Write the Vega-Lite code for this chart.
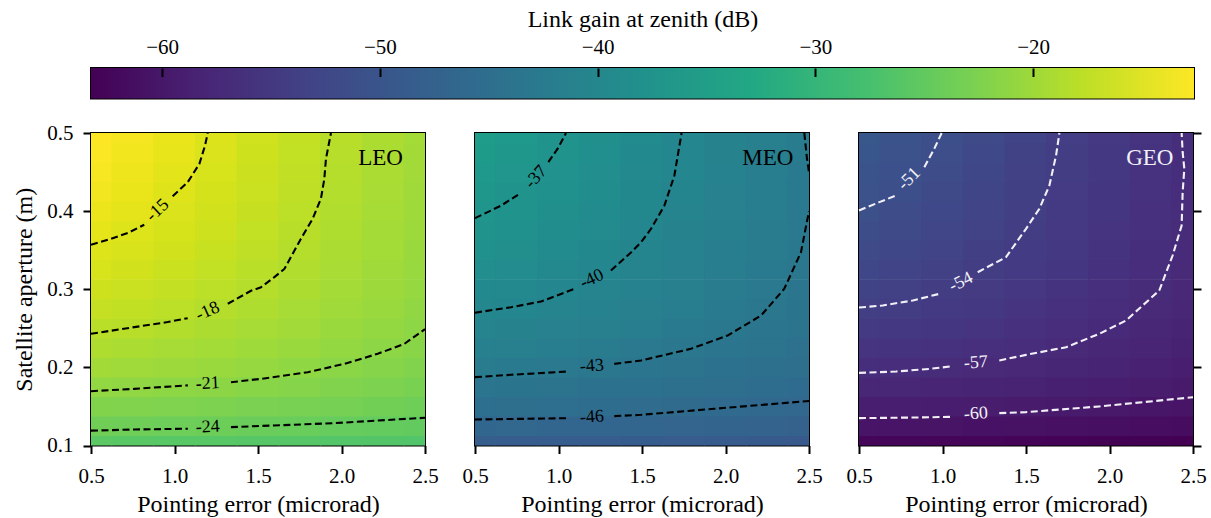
{
"$schema": "https://vega.github.io/schema/vega-lite/v6.json",
"background": "white",
"padding": {"left": 11, "top": 6, "right": 0, "bottom": 0},
"config": {
"font": "Liberation Serif",
"view": {"stroke": "black", "strokeWidth": 2},
"axis": {"labelColor": "black", "titleColor": "black", "tickColor": "black", "tickWidth": 2, "labelFontSize": 21, "titleFontSize": 24, "titleFontWeight": "normal", "labelFlush": false, "labelOverlap": false, "grid": false, "domain": false, "labelFont": "Liberation Serif", "titleFont": "Liberation Serif"}
},
"datasets": {
"grid": [
{"orbit":"LEO","ap":0.1,"err":0.5,"gain":-25.5},{"orbit":"LEO","ap":0.1,"err":0.75,"gain":-25.6},{"orbit":"LEO","ap":0.1,"err":1,"gain":-25.7},{"orbit":"LEO","ap":0.1,"err":1.25,"gain":-25.7},{"orbit":"LEO","ap":0.1,"err":1.5,"gain":-25.8},{"orbit":"LEO","ap":0.1,"err":1.75,"gain":-25.9},{"orbit":"LEO","ap":0.1,"err":2,"gain":-26.1},{"orbit":"LEO","ap":0.1,"err":2.25,"gain":-26.2},{"orbit":"LEO","ap":0.1,"err":2.5,"gain":-26.3},
{"orbit":"LEO","ap":0.125,"err":0.5,"gain":-23.6},{"orbit":"LEO","ap":0.125,"err":0.75,"gain":-23.7},{"orbit":"LEO","ap":0.125,"err":1,"gain":-23.8},{"orbit":"LEO","ap":0.125,"err":1.25,"gain":-23.9},{"orbit":"LEO","ap":0.125,"err":1.5,"gain":-24.1},{"orbit":"LEO","ap":0.125,"err":1.75,"gain":-24.2},{"orbit":"LEO","ap":0.125,"err":2,"gain":-24.4},{"orbit":"LEO","ap":0.125,"err":2.25,"gain":-24.6},{"orbit":"LEO","ap":0.125,"err":2.5,"gain":-24.8},
{"orbit":"LEO","ap":0.15,"err":0.5,"gain":-22.1},{"orbit":"LEO","ap":0.15,"err":0.75,"gain":-22.2},{"orbit":"LEO","ap":0.15,"err":1,"gain":-22.3},{"orbit":"LEO","ap":0.15,"err":1.25,"gain":-22.5},{"orbit":"LEO","ap":0.15,"err":1.5,"gain":-22.7},{"orbit":"LEO","ap":0.15,"err":1.75,"gain":-22.9},{"orbit":"LEO","ap":0.15,"err":2,"gain":-23.1},{"orbit":"LEO","ap":0.15,"err":2.25,"gain":-23.4},{"orbit":"LEO","ap":0.15,"err":2.5,"gain":-23.7},
{"orbit":"LEO","ap":0.175,"err":0.5,"gain":-20.8},{"orbit":"LEO","ap":0.175,"err":0.75,"gain":-20.9},{"orbit":"LEO","ap":0.175,"err":1,"gain":-21.1},{"orbit":"LEO","ap":0.175,"err":1.25,"gain":-21.3},{"orbit":"LEO","ap":0.175,"err":1.5,"gain":-21.6},{"orbit":"LEO","ap":0.175,"err":1.75,"gain":-21.8},{"orbit":"LEO","ap":0.175,"err":2,"gain":-22.2},{"orbit":"LEO","ap":0.175,"err":2.25,"gain":-22.5},{"orbit":"LEO","ap":0.175,"err":2.5,"gain":-22.8},
{"orbit":"LEO","ap":0.2,"err":0.5,"gain":-19.6},{"orbit":"LEO","ap":0.2,"err":0.75,"gain":-19.8},{"orbit":"LEO","ap":0.2,"err":1,"gain":-20.0},{"orbit":"LEO","ap":0.2,"err":1.25,"gain":-20.3},{"orbit":"LEO","ap":0.2,"err":1.5,"gain":-20.6},{"orbit":"LEO","ap":0.2,"err":1.75,"gain":-21.0},{"orbit":"LEO","ap":0.2,"err":2,"gain":-21.4},{"orbit":"LEO","ap":0.2,"err":2.25,"gain":-21.8},{"orbit":"LEO","ap":0.2,"err":2.5,"gain":-22.2},
{"orbit":"LEO","ap":0.225,"err":0.5,"gain":-18.6},{"orbit":"LEO","ap":0.225,"err":0.75,"gain":-18.9},{"orbit":"LEO","ap":0.225,"err":1,"gain":-19.2},{"orbit":"LEO","ap":0.225,"err":1.25,"gain":-19.5},{"orbit":"LEO","ap":0.225,"err":1.5,"gain":-19.9},{"orbit":"LEO","ap":0.225,"err":1.75,"gain":-20.3},{"orbit":"LEO","ap":0.225,"err":2,"gain":-20.7},{"orbit":"LEO","ap":0.225,"err":2.25,"gain":-21.2},{"orbit":"LEO","ap":0.225,"err":2.5,"gain":-21.6},
{"orbit":"LEO","ap":0.25,"err":0.5,"gain":-17.8},{"orbit":"LEO","ap":0.25,"err":0.75,"gain":-18.0},{"orbit":"LEO","ap":0.25,"err":1,"gain":-18.4},{"orbit":"LEO","ap":0.25,"err":1.25,"gain":-18.8},{"orbit":"LEO","ap":0.25,"err":1.5,"gain":-19.2},{"orbit":"LEO","ap":0.25,"err":1.75,"gain":-19.7},{"orbit":"LEO","ap":0.25,"err":2,"gain":-20.2},{"orbit":"LEO","ap":0.25,"err":2.25,"gain":-20.7},{"orbit":"LEO","ap":0.25,"err":2.5,"gain":-21.2},
{"orbit":"LEO","ap":0.275,"err":0.5,"gain":-17.0},{"orbit":"LEO","ap":0.275,"err":0.75,"gain":-17.3},{"orbit":"LEO","ap":0.275,"err":1,"gain":-17.7},{"orbit":"LEO","ap":0.275,"err":1.25,"gain":-18.2},{"orbit":"LEO","ap":0.275,"err":1.5,"gain":-18.7},{"orbit":"LEO","ap":0.275,"err":1.75,"gain":-19.2},{"orbit":"LEO","ap":0.275,"err":2,"gain":-19.8},{"orbit":"LEO","ap":0.275,"err":2.25,"gain":-20.3},{"orbit":"LEO","ap":0.275,"err":2.5,"gain":-20.9},
{"orbit":"LEO","ap":0.3,"err":0.5,"gain":-16.3},{"orbit":"LEO","ap":0.3,"err":0.75,"gain":-16.7},{"orbit":"LEO","ap":0.3,"err":1,"gain":-17.1},{"orbit":"LEO","ap":0.3,"err":1.25,"gain":-17.7},{"orbit":"LEO","ap":0.3,"err":1.5,"gain":-18.2},{"orbit":"LEO","ap":0.3,"err":1.75,"gain":-18.8},{"orbit":"LEO","ap":0.3,"err":2,"gain":-19.4},{"orbit":"LEO","ap":0.3,"err":2.25,"gain":-20.0},{"orbit":"LEO","ap":0.3,"err":2.5,"gain":-20.6},
{"orbit":"LEO","ap":0.325,"err":0.5,"gain":-15.6},{"orbit":"LEO","ap":0.325,"err":0.75,"gain":-16.1},{"orbit":"LEO","ap":0.325,"err":1,"gain":-16.6},{"orbit":"LEO","ap":0.325,"err":1.25,"gain":-17.2},{"orbit":"LEO","ap":0.325,"err":1.5,"gain":-17.8},{"orbit":"LEO","ap":0.325,"err":1.75,"gain":-18.5},{"orbit":"LEO","ap":0.325,"err":2,"gain":-19.1},{"orbit":"LEO","ap":0.325,"err":2.25,"gain":-19.8},{"orbit":"LEO","ap":0.325,"err":2.5,"gain":-20.4},
{"orbit":"LEO","ap":0.35,"err":0.5,"gain":-15.1},{"orbit":"LEO","ap":0.35,"err":0.75,"gain":-15.5},{"orbit":"LEO","ap":0.35,"err":1,"gain":-16.1},{"orbit":"LEO","ap":0.35,"err":1.25,"gain":-16.8},{"orbit":"LEO","ap":0.35,"err":1.5,"gain":-17.5},{"orbit":"LEO","ap":0.35,"err":1.75,"gain":-18.2},{"orbit":"LEO","ap":0.35,"err":2,"gain":-18.9},{"orbit":"LEO","ap":0.35,"err":2.25,"gain":-19.5},{"orbit":"LEO","ap":0.35,"err":2.5,"gain":-20.2},
{"orbit":"LEO","ap":0.375,"err":0.5,"gain":-14.5},{"orbit":"LEO","ap":0.375,"err":0.75,"gain":-15.1},{"orbit":"LEO","ap":0.375,"err":1,"gain":-15.7},{"orbit":"LEO","ap":0.375,"err":1.25,"gain":-16.4},{"orbit":"LEO","ap":0.375,"err":1.5,"gain":-17.2},{"orbit":"LEO","ap":0.375,"err":1.75,"gain":-17.9},{"orbit":"LEO","ap":0.375,"err":2,"gain":-18.7},{"orbit":"LEO","ap":0.375,"err":2.25,"gain":-19.4},{"orbit":"LEO","ap":0.375,"err":2.5,"gain":-20.0},
{"orbit":"LEO","ap":0.4,"err":0.5,"gain":-14.0},{"orbit":"LEO","ap":0.4,"err":0.75,"gain":-14.6},{"orbit":"LEO","ap":0.4,"err":1,"gain":-15.4},{"orbit":"LEO","ap":0.4,"err":1.25,"gain":-16.1},{"orbit":"LEO","ap":0.4,"err":1.5,"gain":-16.9},{"orbit":"LEO","ap":0.4,"err":1.75,"gain":-17.7},{"orbit":"LEO","ap":0.4,"err":2,"gain":-18.5},{"orbit":"LEO","ap":0.4,"err":2.25,"gain":-19.2},{"orbit":"LEO","ap":0.4,"err":2.5,"gain":-19.9},
{"orbit":"LEO","ap":0.425,"err":0.5,"gain":-13.6},{"orbit":"LEO","ap":0.425,"err":0.75,"gain":-14.2},{"orbit":"LEO","ap":0.425,"err":1,"gain":-15.0},{"orbit":"LEO","ap":0.425,"err":1.25,"gain":-15.9},{"orbit":"LEO","ap":0.425,"err":1.5,"gain":-16.7},{"orbit":"LEO","ap":0.425,"err":1.75,"gain":-17.5},{"orbit":"LEO","ap":0.425,"err":2,"gain":-18.3},{"orbit":"LEO","ap":0.425,"err":2.25,"gain":-19.1},{"orbit":"LEO","ap":0.425,"err":2.5,"gain":-19.8},
{"orbit":"LEO","ap":0.45,"err":0.5,"gain":-13.1},{"orbit":"LEO","ap":0.45,"err":0.75,"gain":-13.9},{"orbit":"LEO","ap":0.45,"err":1,"gain":-14.7},{"orbit":"LEO","ap":0.45,"err":1.25,"gain":-15.6},{"orbit":"LEO","ap":0.45,"err":1.5,"gain":-16.5},{"orbit":"LEO","ap":0.45,"err":1.75,"gain":-17.4},{"orbit":"LEO","ap":0.45,"err":2,"gain":-18.2},{"orbit":"LEO","ap":0.45,"err":2.25,"gain":-19.0},{"orbit":"LEO","ap":0.45,"err":2.5,"gain":-19.7},
{"orbit":"LEO","ap":0.475,"err":0.5,"gain":-12.7},{"orbit":"LEO","ap":0.475,"err":0.75,"gain":-13.5},{"orbit":"LEO","ap":0.475,"err":1,"gain":-14.4},{"orbit":"LEO","ap":0.475,"err":1.25,"gain":-15.4},{"orbit":"LEO","ap":0.475,"err":1.5,"gain":-16.3},{"orbit":"LEO","ap":0.475,"err":1.75,"gain":-17.2},{"orbit":"LEO","ap":0.475,"err":2,"gain":-18.1},{"orbit":"LEO","ap":0.475,"err":2.25,"gain":-18.9},{"orbit":"LEO","ap":0.475,"err":2.5,"gain":-19.6},
{"orbit":"LEO","ap":0.5,"err":0.5,"gain":-12.4},{"orbit":"LEO","ap":0.5,"err":0.75,"gain":-13.2},{"orbit":"LEO","ap":0.5,"err":1,"gain":-14.2},{"orbit":"LEO","ap":0.5,"err":1.25,"gain":-15.2},{"orbit":"LEO","ap":0.5,"err":1.5,"gain":-16.2},{"orbit":"LEO","ap":0.5,"err":1.75,"gain":-17.1},{"orbit":"LEO","ap":0.5,"err":2,"gain":-18.0},{"orbit":"LEO","ap":0.5,"err":2.25,"gain":-18.8},{"orbit":"LEO","ap":0.5,"err":2.5,"gain":-19.5},
{"orbit":"MEO","ap":0.1,"err":0.5,"gain":-48.4},{"orbit":"MEO","ap":0.1,"err":0.75,"gain":-48.5},{"orbit":"MEO","ap":0.1,"err":1,"gain":-48.5},{"orbit":"MEO","ap":0.1,"err":1.25,"gain":-48.6},{"orbit":"MEO","ap":0.1,"err":1.5,"gain":-48.7},{"orbit":"MEO","ap":0.1,"err":1.75,"gain":-48.8},{"orbit":"MEO","ap":0.1,"err":2,"gain":-48.9},{"orbit":"MEO","ap":0.1,"err":2.25,"gain":-49.1},{"orbit":"MEO","ap":0.1,"err":2.5,"gain":-49.2},
{"orbit":"MEO","ap":0.125,"err":0.5,"gain":-46.5},{"orbit":"MEO","ap":0.125,"err":0.75,"gain":-46.6},{"orbit":"MEO","ap":0.125,"err":1,"gain":-46.7},{"orbit":"MEO","ap":0.125,"err":1.25,"gain":-46.8},{"orbit":"MEO","ap":0.125,"err":1.5,"gain":-46.9},{"orbit":"MEO","ap":0.125,"err":1.75,"gain":-47.1},{"orbit":"MEO","ap":0.125,"err":2,"gain":-47.3},{"orbit":"MEO","ap":0.125,"err":2.25,"gain":-47.5},{"orbit":"MEO","ap":0.125,"err":2.5,"gain":-47.7},
{"orbit":"MEO","ap":0.15,"err":0.5,"gain":-44.9},{"orbit":"MEO","ap":0.15,"err":0.75,"gain":-45.0},{"orbit":"MEO","ap":0.15,"err":1,"gain":-45.2},{"orbit":"MEO","ap":0.15,"err":1.25,"gain":-45.4},{"orbit":"MEO","ap":0.15,"err":1.5,"gain":-45.6},{"orbit":"MEO","ap":0.15,"err":1.75,"gain":-45.8},{"orbit":"MEO","ap":0.15,"err":2,"gain":-46.0},{"orbit":"MEO","ap":0.15,"err":2.25,"gain":-46.3},{"orbit":"MEO","ap":0.15,"err":2.5,"gain":-46.6},
{"orbit":"MEO","ap":0.175,"err":0.5,"gain":-43.6},{"orbit":"MEO","ap":0.175,"err":0.75,"gain":-43.8},{"orbit":"MEO","ap":0.175,"err":1,"gain":-44.0},{"orbit":"MEO","ap":0.175,"err":1.25,"gain":-44.2},{"orbit":"MEO","ap":0.175,"err":1.5,"gain":-44.4},{"orbit":"MEO","ap":0.175,"err":1.75,"gain":-44.7},{"orbit":"MEO","ap":0.175,"err":2,"gain":-45.0},{"orbit":"MEO","ap":0.175,"err":2.25,"gain":-45.4},{"orbit":"MEO","ap":0.175,"err":2.5,"gain":-45.7},
{"orbit":"MEO","ap":0.2,"err":0.5,"gain":-42.5},{"orbit":"MEO","ap":0.2,"err":0.75,"gain":-42.7},{"orbit":"MEO","ap":0.2,"err":1,"gain":-42.9},{"orbit":"MEO","ap":0.2,"err":1.25,"gain":-43.2},{"orbit":"MEO","ap":0.2,"err":1.5,"gain":-43.5},{"orbit":"MEO","ap":0.2,"err":1.75,"gain":-43.9},{"orbit":"MEO","ap":0.2,"err":2,"gain":-44.3},{"orbit":"MEO","ap":0.2,"err":2.25,"gain":-44.6},{"orbit":"MEO","ap":0.2,"err":2.5,"gain":-45.0},
{"orbit":"MEO","ap":0.225,"err":0.5,"gain":-41.5},{"orbit":"MEO","ap":0.225,"err":0.75,"gain":-41.7},{"orbit":"MEO","ap":0.225,"err":1,"gain":-42.0},{"orbit":"MEO","ap":0.225,"err":1.25,"gain":-42.4},{"orbit":"MEO","ap":0.225,"err":1.5,"gain":-42.8},{"orbit":"MEO","ap":0.225,"err":1.75,"gain":-43.2},{"orbit":"MEO","ap":0.225,"err":2,"gain":-43.6},{"orbit":"MEO","ap":0.225,"err":2.25,"gain":-44.1},{"orbit":"MEO","ap":0.225,"err":2.5,"gain":-44.5},
{"orbit":"MEO","ap":0.25,"err":0.5,"gain":-40.7},{"orbit":"MEO","ap":0.25,"err":0.75,"gain":-40.9},{"orbit":"MEO","ap":0.25,"err":1,"gain":-41.3},{"orbit":"MEO","ap":0.25,"err":1.25,"gain":-41.7},{"orbit":"MEO","ap":0.25,"err":1.5,"gain":-42.1},{"orbit":"MEO","ap":0.25,"err":1.75,"gain":-42.6},{"orbit":"MEO","ap":0.25,"err":2,"gain":-43.1},{"orbit":"MEO","ap":0.25,"err":2.25,"gain":-43.6},{"orbit":"MEO","ap":0.25,"err":2.5,"gain":-44.1},
{"orbit":"MEO","ap":0.275,"err":0.5,"gain":-39.9},{"orbit":"MEO","ap":0.275,"err":0.75,"gain":-40.2},{"orbit":"MEO","ap":0.275,"err":1,"gain":-40.6},{"orbit":"MEO","ap":0.275,"err":1.25,"gain":-41.1},{"orbit":"MEO","ap":0.275,"err":1.5,"gain":-41.6},{"orbit":"MEO","ap":0.275,"err":1.75,"gain":-42.1},{"orbit":"MEO","ap":0.275,"err":2,"gain":-42.7},{"orbit":"MEO","ap":0.275,"err":2.25,"gain":-43.2},{"orbit":"MEO","ap":0.275,"err":2.5,"gain":-43.8},
{"orbit":"MEO","ap":0.3,"err":0.5,"gain":-39.2},{"orbit":"MEO","ap":0.3,"err":0.75,"gain":-39.5},{"orbit":"MEO","ap":0.3,"err":1,"gain":-40.0},{"orbit":"MEO","ap":0.3,"err":1.25,"gain":-40.5},{"orbit":"MEO","ap":0.3,"err":1.5,"gain":-41.1},{"orbit":"MEO","ap":0.3,"err":1.75,"gain":-41.7},{"orbit":"MEO","ap":0.3,"err":2,"gain":-42.3},{"orbit":"MEO","ap":0.3,"err":2.25,"gain":-42.9},{"orbit":"MEO","ap":0.3,"err":2.5,"gain":-43.5},
{"orbit":"MEO","ap":0.325,"err":0.5,"gain":-38.5},{"orbit":"MEO","ap":0.325,"err":0.75,"gain":-38.9},{"orbit":"MEO","ap":0.325,"err":1,"gain":-39.5},{"orbit":"MEO","ap":0.325,"err":1.25,"gain":-40.1},{"orbit":"MEO","ap":0.325,"err":1.5,"gain":-40.7},{"orbit":"MEO","ap":0.325,"err":1.75,"gain":-41.4},{"orbit":"MEO","ap":0.325,"err":2,"gain":-42.0},{"orbit":"MEO","ap":0.325,"err":2.25,"gain":-42.6},{"orbit":"MEO","ap":0.325,"err":2.5,"gain":-43.3},
{"orbit":"MEO","ap":0.35,"err":0.5,"gain":-37.9},{"orbit":"MEO","ap":0.35,"err":0.75,"gain":-38.4},{"orbit":"MEO","ap":0.35,"err":1,"gain":-39.0},{"orbit":"MEO","ap":0.35,"err":1.25,"gain":-39.7},{"orbit":"MEO","ap":0.35,"err":1.5,"gain":-40.4},{"orbit":"MEO","ap":0.35,"err":1.75,"gain":-41.1},{"orbit":"MEO","ap":0.35,"err":2,"gain":-41.8},{"orbit":"MEO","ap":0.35,"err":2.25,"gain":-42.4},{"orbit":"MEO","ap":0.35,"err":2.5,"gain":-43.1},
{"orbit":"MEO","ap":0.375,"err":0.5,"gain":-37.4},{"orbit":"MEO","ap":0.375,"err":0.75,"gain":-37.9},{"orbit":"MEO","ap":0.375,"err":1,"gain":-38.6},{"orbit":"MEO","ap":0.375,"err":1.25,"gain":-39.3},{"orbit":"MEO","ap":0.375,"err":1.5,"gain":-40.1},{"orbit":"MEO","ap":0.375,"err":1.75,"gain":-40.8},{"orbit":"MEO","ap":0.375,"err":2,"gain":-41.5},{"orbit":"MEO","ap":0.375,"err":2.25,"gain":-42.2},{"orbit":"MEO","ap":0.375,"err":2.5,"gain":-42.9},
{"orbit":"MEO","ap":0.4,"err":0.5,"gain":-36.9},{"orbit":"MEO","ap":0.4,"err":0.75,"gain":-37.5},{"orbit":"MEO","ap":0.4,"err":1,"gain":-38.2},{"orbit":"MEO","ap":0.4,"err":1.25,"gain":-39.0},{"orbit":"MEO","ap":0.4,"err":1.5,"gain":-39.8},{"orbit":"MEO","ap":0.4,"err":1.75,"gain":-40.6},{"orbit":"MEO","ap":0.4,"err":2,"gain":-41.4},{"orbit":"MEO","ap":0.4,"err":2.25,"gain":-42.1},{"orbit":"MEO","ap":0.4,"err":2.5,"gain":-42.8},
{"orbit":"MEO","ap":0.425,"err":0.5,"gain":-36.4},{"orbit":"MEO","ap":0.425,"err":0.75,"gain":-37.1},{"orbit":"MEO","ap":0.425,"err":1,"gain":-37.9},{"orbit":"MEO","ap":0.425,"err":1.25,"gain":-38.7},{"orbit":"MEO","ap":0.425,"err":1.5,"gain":-39.6},{"orbit":"MEO","ap":0.425,"err":1.75,"gain":-40.4},{"orbit":"MEO","ap":0.425,"err":2,"gain":-41.2},{"orbit":"MEO","ap":0.425,"err":2.25,"gain":-42.0},{"orbit":"MEO","ap":0.425,"err":2.5,"gain":-42.7},
{"orbit":"MEO","ap":0.45,"err":0.5,"gain":-36.0},{"orbit":"MEO","ap":0.45,"err":0.75,"gain":-36.7},{"orbit":"MEO","ap":0.45,"err":1,"gain":-37.6},{"orbit":"MEO","ap":0.45,"err":1.25,"gain":-38.5},{"orbit":"MEO","ap":0.45,"err":1.5,"gain":-39.4},{"orbit":"MEO","ap":0.45,"err":1.75,"gain":-40.2},{"orbit":"MEO","ap":0.45,"err":2,"gain":-41.1},{"orbit":"MEO","ap":0.45,"err":2.25,"gain":-41.8},{"orbit":"MEO","ap":0.45,"err":2.5,"gain":-42.6},
{"orbit":"MEO","ap":0.475,"err":0.5,"gain":-35.6},{"orbit":"MEO","ap":0.475,"err":0.75,"gain":-36.4},{"orbit":"MEO","ap":0.475,"err":1,"gain":-37.3},{"orbit":"MEO","ap":0.475,"err":1.25,"gain":-38.3},{"orbit":"MEO","ap":0.475,"err":1.5,"gain":-39.2},{"orbit":"MEO","ap":0.475,"err":1.75,"gain":-40.1},{"orbit":"MEO","ap":0.475,"err":2,"gain":-40.9},{"orbit":"MEO","ap":0.475,"err":2.25,"gain":-41.7},{"orbit":"MEO","ap":0.475,"err":2.5,"gain":-42.5},
{"orbit":"MEO","ap":0.5,"err":0.5,"gain":-35.2},{"orbit":"MEO","ap":0.5,"err":0.75,"gain":-36.1},{"orbit":"MEO","ap":0.5,"err":1,"gain":-37.1},{"orbit":"MEO","ap":0.5,"err":1.25,"gain":-38.1},{"orbit":"MEO","ap":0.5,"err":1.5,"gain":-39.0},{"orbit":"MEO","ap":0.5,"err":1.75,"gain":-40.0},{"orbit":"MEO","ap":0.5,"err":2,"gain":-40.8},{"orbit":"MEO","ap":0.5,"err":2.25,"gain":-41.7},{"orbit":"MEO","ap":0.5,"err":2.5,"gain":-42.4},
{"orbit":"GEO","ap":0.1,"err":0.5,"gain":-62.6},{"orbit":"GEO","ap":0.1,"err":0.75,"gain":-62.6},{"orbit":"GEO","ap":0.1,"err":1,"gain":-62.7},{"orbit":"GEO","ap":0.1,"err":1.25,"gain":-62.8},{"orbit":"GEO","ap":0.1,"err":1.5,"gain":-62.9},{"orbit":"GEO","ap":0.1,"err":1.75,"gain":-63.0},{"orbit":"GEO","ap":0.1,"err":2,"gain":-63.1},{"orbit":"GEO","ap":0.1,"err":2.25,"gain":-63.2},{"orbit":"GEO","ap":0.1,"err":2.5,"gain":-63.4},
{"orbit":"GEO","ap":0.125,"err":0.5,"gain":-60.7},{"orbit":"GEO","ap":0.125,"err":0.75,"gain":-60.7},{"orbit":"GEO","ap":0.125,"err":1,"gain":-60.8},{"orbit":"GEO","ap":0.125,"err":1.25,"gain":-61.0},{"orbit":"GEO","ap":0.125,"err":1.5,"gain":-61.1},{"orbit":"GEO","ap":0.125,"err":1.75,"gain":-61.3},{"orbit":"GEO","ap":0.125,"err":2,"gain":-61.5},{"orbit":"GEO","ap":0.125,"err":2.25,"gain":-61.7},{"orbit":"GEO","ap":0.125,"err":2.5,"gain":-61.9},
{"orbit":"GEO","ap":0.15,"err":0.5,"gain":-59.1},{"orbit":"GEO","ap":0.15,"err":0.75,"gain":-59.2},{"orbit":"GEO","ap":0.15,"err":1,"gain":-59.4},{"orbit":"GEO","ap":0.15,"err":1.25,"gain":-59.5},{"orbit":"GEO","ap":0.15,"err":1.5,"gain":-59.7},{"orbit":"GEO","ap":0.15,"err":1.75,"gain":-59.9},{"orbit":"GEO","ap":0.15,"err":2,"gain":-60.2},{"orbit":"GEO","ap":0.15,"err":2.25,"gain":-60.5},{"orbit":"GEO","ap":0.15,"err":2.5,"gain":-60.7},
{"orbit":"GEO","ap":0.175,"err":0.5,"gain":-57.8},{"orbit":"GEO","ap":0.175,"err":0.75,"gain":-57.9},{"orbit":"GEO","ap":0.175,"err":1,"gain":-58.1},{"orbit":"GEO","ap":0.175,"err":1.25,"gain":-58.3},{"orbit":"GEO","ap":0.175,"err":1.5,"gain":-58.6},{"orbit":"GEO","ap":0.175,"err":1.75,"gain":-58.9},{"orbit":"GEO","ap":0.175,"err":2,"gain":-59.2},{"orbit":"GEO","ap":0.175,"err":2.25,"gain":-59.5},{"orbit":"GEO","ap":0.175,"err":2.5,"gain":-59.9},
{"orbit":"GEO","ap":0.2,"err":0.5,"gain":-56.7},{"orbit":"GEO","ap":0.2,"err":0.75,"gain":-56.9},{"orbit":"GEO","ap":0.2,"err":1,"gain":-57.1},{"orbit":"GEO","ap":0.2,"err":1.25,"gain":-57.4},{"orbit":"GEO","ap":0.2,"err":1.5,"gain":-57.7},{"orbit":"GEO","ap":0.2,"err":1.75,"gain":-58.0},{"orbit":"GEO","ap":0.2,"err":2,"gain":-58.4},{"orbit":"GEO","ap":0.2,"err":2.25,"gain":-58.8},{"orbit":"GEO","ap":0.2,"err":2.5,"gain":-59.2},
{"orbit":"GEO","ap":0.225,"err":0.5,"gain":-55.7},{"orbit":"GEO","ap":0.225,"err":0.75,"gain":-55.9},{"orbit":"GEO","ap":0.225,"err":1,"gain":-56.2},{"orbit":"GEO","ap":0.225,"err":1.25,"gain":-56.5},{"orbit":"GEO","ap":0.225,"err":1.5,"gain":-56.9},{"orbit":"GEO","ap":0.225,"err":1.75,"gain":-57.4},{"orbit":"GEO","ap":0.225,"err":2,"gain":-57.8},{"orbit":"GEO","ap":0.225,"err":2.25,"gain":-58.2},{"orbit":"GEO","ap":0.225,"err":2.5,"gain":-58.7},
{"orbit":"GEO","ap":0.25,"err":0.5,"gain":-54.8},{"orbit":"GEO","ap":0.25,"err":0.75,"gain":-55.1},{"orbit":"GEO","ap":0.25,"err":1,"gain":-55.4},{"orbit":"GEO","ap":0.25,"err":1.25,"gain":-55.8},{"orbit":"GEO","ap":0.25,"err":1.5,"gain":-56.3},{"orbit":"GEO","ap":0.25,"err":1.75,"gain":-56.8},{"orbit":"GEO","ap":0.25,"err":2,"gain":-57.3},{"orbit":"GEO","ap":0.25,"err":2.25,"gain":-57.8},{"orbit":"GEO","ap":0.25,"err":2.5,"gain":-58.3},
{"orbit":"GEO","ap":0.275,"err":0.5,"gain":-54.0},{"orbit":"GEO","ap":0.275,"err":0.75,"gain":-54.4},{"orbit":"GEO","ap":0.275,"err":1,"gain":-54.8},{"orbit":"GEO","ap":0.275,"err":1.25,"gain":-55.2},{"orbit":"GEO","ap":0.275,"err":1.5,"gain":-55.8},{"orbit":"GEO","ap":0.275,"err":1.75,"gain":-56.3},{"orbit":"GEO","ap":0.275,"err":2,"gain":-56.8},{"orbit":"GEO","ap":0.275,"err":2.25,"gain":-57.4},{"orbit":"GEO","ap":0.275,"err":2.5,"gain":-57.9},
{"orbit":"GEO","ap":0.3,"err":0.5,"gain":-53.3},{"orbit":"GEO","ap":0.3,"err":0.75,"gain":-53.7},{"orbit":"GEO","ap":0.3,"err":1,"gain":-54.2},{"orbit":"GEO","ap":0.3,"err":1.25,"gain":-54.7},{"orbit":"GEO","ap":0.3,"err":1.5,"gain":-55.3},{"orbit":"GEO","ap":0.3,"err":1.75,"gain":-55.9},{"orbit":"GEO","ap":0.3,"err":2,"gain":-56.5},{"orbit":"GEO","ap":0.3,"err":2.25,"gain":-57.1},{"orbit":"GEO","ap":0.3,"err":2.5,"gain":-57.7},
{"orbit":"GEO","ap":0.325,"err":0.5,"gain":-52.7},{"orbit":"GEO","ap":0.325,"err":0.75,"gain":-53.1},{"orbit":"GEO","ap":0.325,"err":1,"gain":-53.6},{"orbit":"GEO","ap":0.325,"err":1.25,"gain":-54.3},{"orbit":"GEO","ap":0.325,"err":1.5,"gain":-54.9},{"orbit":"GEO","ap":0.325,"err":1.75,"gain":-55.5},{"orbit":"GEO","ap":0.325,"err":2,"gain":-56.2},{"orbit":"GEO","ap":0.325,"err":2.25,"gain":-56.8},{"orbit":"GEO","ap":0.325,"err":2.5,"gain":-57.4},
{"orbit":"GEO","ap":0.35,"err":0.5,"gain":-52.1},{"orbit":"GEO","ap":0.35,"err":0.75,"gain":-52.6},{"orbit":"GEO","ap":0.35,"err":1,"gain":-53.2},{"orbit":"GEO","ap":0.35,"err":1.25,"gain":-53.9},{"orbit":"GEO","ap":0.35,"err":1.5,"gain":-54.5},{"orbit":"GEO","ap":0.35,"err":1.75,"gain":-55.2},{"orbit":"GEO","ap":0.35,"err":2,"gain":-55.9},{"orbit":"GEO","ap":0.35,"err":2.25,"gain":-56.6},{"orbit":"GEO","ap":0.35,"err":2.5,"gain":-57.2},
{"orbit":"GEO","ap":0.375,"err":0.5,"gain":-51.6},{"orbit":"GEO","ap":0.375,"err":0.75,"gain":-52.1},{"orbit":"GEO","ap":0.375,"err":1,"gain":-52.8},{"orbit":"GEO","ap":0.375,"err":1.25,"gain":-53.5},{"orbit":"GEO","ap":0.375,"err":1.5,"gain":-54.2},{"orbit":"GEO","ap":0.375,"err":1.75,"gain":-55.0},{"orbit":"GEO","ap":0.375,"err":2,"gain":-55.7},{"orbit":"GEO","ap":0.375,"err":2.25,"gain":-56.4},{"orbit":"GEO","ap":0.375,"err":2.5,"gain":-57.1},
{"orbit":"GEO","ap":0.4,"err":0.5,"gain":-51.1},{"orbit":"GEO","ap":0.4,"err":0.75,"gain":-51.7},{"orbit":"GEO","ap":0.4,"err":1,"gain":-52.4},{"orbit":"GEO","ap":0.4,"err":1.25,"gain":-53.2},{"orbit":"GEO","ap":0.4,"err":1.5,"gain":-54.0},{"orbit":"GEO","ap":0.4,"err":1.75,"gain":-54.8},{"orbit":"GEO","ap":0.4,"err":2,"gain":-55.5},{"orbit":"GEO","ap":0.4,"err":2.25,"gain":-56.3},{"orbit":"GEO","ap":0.4,"err":2.5,"gain":-56.9},
{"orbit":"GEO","ap":0.425,"err":0.5,"gain":-50.6},{"orbit":"GEO","ap":0.425,"err":0.75,"gain":-51.3},{"orbit":"GEO","ap":0.425,"err":1,"gain":-52.1},{"orbit":"GEO","ap":0.425,"err":1.25,"gain":-52.9},{"orbit":"GEO","ap":0.425,"err":1.5,"gain":-53.8},{"orbit":"GEO","ap":0.425,"err":1.75,"gain":-54.6},{"orbit":"GEO","ap":0.425,"err":2,"gain":-55.4},{"orbit":"GEO","ap":0.425,"err":2.25,"gain":-56.1},{"orbit":"GEO","ap":0.425,"err":2.5,"gain":-56.8},
{"orbit":"GEO","ap":0.45,"err":0.5,"gain":-50.2},{"orbit":"GEO","ap":0.45,"err":0.75,"gain":-50.9},{"orbit":"GEO","ap":0.45,"err":1,"gain":-51.8},{"orbit":"GEO","ap":0.45,"err":1.25,"gain":-52.7},{"orbit":"GEO","ap":0.45,"err":1.5,"gain":-53.6},{"orbit":"GEO","ap":0.45,"err":1.75,"gain":-54.4},{"orbit":"GEO","ap":0.45,"err":2,"gain":-55.2},{"orbit":"GEO","ap":0.45,"err":2.25,"gain":-56.0},{"orbit":"GEO","ap":0.45,"err":2.5,"gain":-56.7},
{"orbit":"GEO","ap":0.475,"err":0.5,"gain":-49.8},{"orbit":"GEO","ap":0.475,"err":0.75,"gain":-50.6},{"orbit":"GEO","ap":0.475,"err":1,"gain":-51.5},{"orbit":"GEO","ap":0.475,"err":1.25,"gain":-52.4},{"orbit":"GEO","ap":0.475,"err":1.5,"gain":-53.4},{"orbit":"GEO","ap":0.475,"err":1.75,"gain":-54.3},{"orbit":"GEO","ap":0.475,"err":2,"gain":-55.1},{"orbit":"GEO","ap":0.475,"err":2.25,"gain":-55.9},{"orbit":"GEO","ap":0.475,"err":2.5,"gain":-56.7},
{"orbit":"GEO","ap":0.5,"err":0.5,"gain":-49.4},{"orbit":"GEO","ap":0.5,"err":0.75,"gain":-50.3},{"orbit":"GEO","ap":0.5,"err":1,"gain":-51.2},{"orbit":"GEO","ap":0.5,"err":1.25,"gain":-52.2},{"orbit":"GEO","ap":0.5,"err":1.5,"gain":-53.2},{"orbit":"GEO","ap":0.5,"err":1.75,"gain":-54.1},{"orbit":"GEO","ap":0.5,"err":2,"gain":-55.0},{"orbit":"GEO","ap":0.5,"err":2.25,"gain":-55.8},{"orbit":"GEO","ap":0.5,"err":2.5,"gain":-56.6}
],
"contours": [
{"orbit":"LEO","seg":"L15a","i":0,"err":0.5,"ap":0.357},{"orbit":"LEO","seg":"L15a","i":1,"err":0.62,"ap":0.3645},{"orbit":"LEO","seg":"L15a","i":2,"err":0.72,"ap":0.372},{"orbit":"LEO","seg":"L15a","i":3,"err":0.819,"ap":0.3825},
{"orbit":"LEO","seg":"L15b","i":0,"err":0.989,"ap":0.419},{"orbit":"LEO","seg":"L15b","i":1,"err":1.079,"ap":0.437},{"orbit":"LEO","seg":"L15b","i":2,"err":1.149,"ap":0.4606},{"orbit":"LEO","seg":"L15b","i":3,"err":1.183,"ap":0.484},{"orbit":"LEO","seg":"L15b","i":4,"err":1.199,"ap":0.5},
{"orbit":"LEO","seg":"L18a","i":0,"err":0.5,"ap":0.243},{"orbit":"LEO","seg":"L18a","i":1,"err":0.759,"ap":0.2515},{"orbit":"LEO","seg":"L18a","i":2,"err":0.959,"ap":0.258},{"orbit":"LEO","seg":"L18a","i":3,"err":1.079,"ap":0.263},
{"orbit":"LEO","seg":"L18b","i":0,"err":1.319,"ap":0.2814},{"orbit":"LEO","seg":"L18b","i":1,"err":1.458,"ap":0.298},{"orbit":"LEO","seg":"L18b","i":2,"err":1.518,"ap":0.3026},{"orbit":"LEO","seg":"L18b","i":3,"err":1.598,"ap":0.3155},{"orbit":"LEO","seg":"L18b","i":4,"err":1.658,"ap":0.326},{"orbit":"LEO","seg":"L18b","i":5,"err":1.757,"ap":0.3646},{"orbit":"LEO","seg":"L18b","i":6,"err":1.827,"ap":0.39},{"orbit":"LEO","seg":"L18b","i":7,"err":1.877,"ap":0.416},{"orbit":"LEO","seg":"L18b","i":8,"err":1.897,"ap":0.441},{"orbit":"LEO","seg":"L18b","i":9,"err":1.907,"ap":0.467},{"orbit":"LEO","seg":"L18b","i":10,"err":1.937,"ap":0.5},
{"orbit":"LEO","seg":"L21a","i":0,"err":0.5,"ap":0.1695},{"orbit":"LEO","seg":"L21a","i":1,"err":0.759,"ap":0.1725},{"orbit":"LEO","seg":"L21a","i":2,"err":1.08,"ap":0.177},
{"orbit":"LEO","seg":"L21b","i":0,"err":1.338,"ap":0.181},{"orbit":"LEO","seg":"L21b","i":1,"err":1.518,"ap":0.1853},{"orbit":"LEO","seg":"L21b","i":2,"err":1.798,"ap":0.1938},{"orbit":"LEO","seg":"L21b","i":3,"err":2.017,"ap":0.2045},{"orbit":"LEO","seg":"L21b","i":4,"err":2.217,"ap":0.2174},{"orbit":"LEO","seg":"L21b","i":5,"err":2.376,"ap":0.23},{"orbit":"LEO","seg":"L21b","i":6,"err":2.5,"ap":0.249},
{"orbit":"LEO","seg":"L24a","i":0,"err":0.5,"ap":0.119},{"orbit":"LEO","seg":"L24a","i":1,"err":0.759,"ap":0.1205},{"orbit":"LEO","seg":"L24a","i":2,"err":1.08,"ap":0.1215},
{"orbit":"LEO","seg":"L24b","i":0,"err":1.338,"ap":0.1235},{"orbit":"LEO","seg":"L24b","i":1,"err":1.518,"ap":0.125},{"orbit":"LEO","seg":"L24b","i":2,"err":1.957,"ap":0.1286},{"orbit":"LEO","seg":"L24b","i":3,"err":2.5,"ap":0.1355},
{"orbit":"MEO","seg":"M37a","i":0,"err":0.5,"ap":0.391},{"orbit":"MEO","seg":"M37a","i":1,"err":0.656,"ap":0.407},{"orbit":"MEO","seg":"M37a","i":2,"err":0.765,"ap":0.422},
{"orbit":"MEO","seg":"M37b","i":0,"err":0.939,"ap":0.4626},{"orbit":"MEO","seg":"M37b","i":1,"err":0.995,"ap":0.48},{"orbit":"MEO","seg":"M37b","i":2,"err":1.045,"ap":0.5},
{"orbit":"MEO","seg":"M40a","i":0,"err":0.5,"ap":0.27},{"orbit":"MEO","seg":"M40a","i":1,"err":0.716,"ap":0.277},{"orbit":"MEO","seg":"M40a","i":2,"err":0.895,"ap":0.2843},{"orbit":"MEO","seg":"M40a","i":3,"err":1.015,"ap":0.294},{"orbit":"MEO","seg":"M40a","i":4,"err":1.095,"ap":0.3005},
{"orbit":"MEO","seg":"M40b","i":0,"err":1.314,"ap":0.324},{"orbit":"MEO","seg":"M40b","i":1,"err":1.434,"ap":0.347},{"orbit":"MEO","seg":"M40b","i":2,"err":1.494,"ap":0.36},{"orbit":"MEO","seg":"M40b","i":3,"err":1.554,"ap":0.3774},{"orbit":"MEO","seg":"M40b","i":4,"err":1.634,"ap":0.407},{"orbit":"MEO","seg":"M40b","i":5,"err":1.694,"ap":0.4456},{"orbit":"MEO","seg":"M40b","i":6,"err":1.714,"ap":0.471},{"orbit":"MEO","seg":"M40b","i":7,"err":1.737,"ap":0.5},
{"orbit":"MEO","seg":"M43a","i":0,"err":0.5,"ap":0.1875},{"orbit":"MEO","seg":"M43a","i":1,"err":0.716,"ap":0.1905},{"orbit":"MEO","seg":"M43a","i":2,"err":0.915,"ap":0.193},{"orbit":"MEO","seg":"M43a","i":3,"err":1.055,"ap":0.1947},
{"orbit":"MEO","seg":"M43b","i":0,"err":1.334,"ap":0.2045},{"orbit":"MEO","seg":"M43b","i":1,"err":1.494,"ap":0.2088},{"orbit":"MEO","seg":"M43b","i":2,"err":1.793,"ap":0.2238},{"orbit":"MEO","seg":"M43b","i":3,"err":2.013,"ap":0.2408},{"orbit":"MEO","seg":"M43b","i":4,"err":2.213,"ap":0.2664},{"orbit":"MEO","seg":"M43b","i":5,"err":2.352,"ap":0.3006},{"orbit":"MEO","seg":"M43b","i":6,"err":2.452,"ap":0.3474},{"orbit":"MEO","seg":"M43b","i":7,"err":2.5,"ap":0.4},
{"orbit":"MEO","seg":"M43c","i":0,"err":2.472,"ap":0.5},{"orbit":"MEO","seg":"M43c","i":1,"err":2.488,"ap":0.467},{"orbit":"MEO","seg":"M43c","i":2,"err":2.5,"ap":0.45},
{"orbit":"MEO","seg":"M46a","i":0,"err":0.5,"ap":0.1333},{"orbit":"MEO","seg":"M46a","i":1,"err":0.815,"ap":0.1342},{"orbit":"MEO","seg":"M46a","i":2,"err":1.055,"ap":0.135},
{"orbit":"MEO","seg":"M46b","i":0,"err":1.334,"ap":0.1376},{"orbit":"MEO","seg":"M46b","i":1,"err":1.494,"ap":0.1393},{"orbit":"MEO","seg":"M46b","i":2,"err":1.933,"ap":0.147},{"orbit":"MEO","seg":"M46b","i":3,"err":2.5,"ap":0.157},
{"orbit":"GEO","seg":"G51a","i":0,"err":0.5,"ap":0.4008},{"orbit":"GEO","seg":"G51a","i":1,"err":0.622,"ap":0.4115},{"orbit":"GEO","seg":"G51a","i":2,"err":0.722,"ap":0.42},
{"orbit":"GEO","seg":"G51b","i":0,"err":0.891,"ap":0.4563},{"orbit":"GEO","seg":"G51b","i":1,"err":0.951,"ap":0.48},{"orbit":"GEO","seg":"G51b","i":2,"err":0.995,"ap":0.5},
{"orbit":"GEO","seg":"G54a","i":0,"err":0.5,"ap":0.2766},{"orbit":"GEO","seg":"G54a","i":1,"err":0.642,"ap":0.2792},{"orbit":"GEO","seg":"G54a","i":2,"err":0.822,"ap":0.2856},{"orbit":"GEO","seg":"G54a","i":3,"err":0.981,"ap":0.2941},
{"orbit":"GEO","seg":"G54b","i":0,"err":1.211,"ap":0.3218},{"orbit":"GEO","seg":"G54b","i":1,"err":1.38,"ap":0.341},{"orbit":"GEO","seg":"G54b","i":2,"err":1.5,"ap":0.3774},{"orbit":"GEO","seg":"G54b","i":3,"err":1.58,"ap":0.403},{"orbit":"GEO","seg":"G54b","i":4,"err":1.64,"ap":0.4328},{"orbit":"GEO","seg":"G54b","i":5,"err":1.68,"ap":0.4712},{"orbit":"GEO","seg":"G54b","i":6,"err":1.7,"ap":0.5},
{"orbit":"GEO","seg":"G57a","i":0,"err":0.5,"ap":0.193},{"orbit":"GEO","seg":"G57a","i":1,"err":0.722,"ap":0.1947},{"orbit":"GEO","seg":"G57a","i":2,"err":0.921,"ap":0.198},{"orbit":"GEO","seg":"G57a","i":3,"err":1.061,"ap":0.2015},
{"orbit":"GEO","seg":"G57b","i":0,"err":1.34,"ap":0.2088},{"orbit":"GEO","seg":"G57b","i":1,"err":1.5,"ap":0.216},{"orbit":"GEO","seg":"G57b","i":2,"err":1.74,"ap":0.2258},{"orbit":"GEO","seg":"G57b","i":3,"err":1.939,"ap":0.243},{"orbit":"GEO","seg":"G57b","i":4,"err":2.099,"ap":0.26},{"orbit":"GEO","seg":"G57b","i":5,"err":2.298,"ap":0.2984},{"orbit":"GEO","seg":"G57b","i":6,"err":2.378,"ap":0.3432},{"orbit":"GEO","seg":"G57b","i":7,"err":2.432,"ap":0.3816},{"orbit":"GEO","seg":"G57b","i":8,"err":2.438,"ap":0.4242},{"orbit":"GEO","seg":"G57b","i":9,"err":2.448,"ap":0.4542},{"orbit":"GEO","seg":"G57b","i":10,"err":2.438,"ap":0.4754},{"orbit":"GEO","seg":"G57b","i":11,"err":2.432,"ap":0.5},
{"orbit":"GEO","seg":"G60a","i":0,"err":0.5,"ap":0.135},{"orbit":"GEO","seg":"G60a","i":1,"err":0.822,"ap":0.1358},{"orbit":"GEO","seg":"G60a","i":2,"err":1.061,"ap":0.1367},
{"orbit":"GEO","seg":"G60b","i":0,"err":1.34,"ap":0.1415},{"orbit":"GEO","seg":"G60b","i":1,"err":1.5,"ap":0.1427},{"orbit":"GEO","seg":"G60b","i":2,"err":1.939,"ap":0.15},{"orbit":"GEO","seg":"G60b","i":3,"err":2.5,"ap":0.1618}
],
"labels": [
{"orbit":"LEO","lab":"-15","err":0.899,"ap":0.401},{"orbit":"LEO","lab":"-18","err":1.199,"ap":0.2715},{"orbit":"LEO","lab":"-21","err":1.199,"ap":0.179},{"orbit":"LEO","lab":"-24","err":1.199,"ap":0.1235},
{"orbit":"MEO","lab":"-37","err":0.865,"ap":0.4435},{"orbit":"MEO","lab":"-40","err":1.2,"ap":0.313},{"orbit":"MEO","lab":"-43","err":1.2,"ap":0.2015},{"orbit":"MEO","lab":"-46","err":1.2,"ap":0.1363},
{"orbit":"GEO","lab":"-51","err":0.8,"ap":0.4413},{"orbit":"GEO","lab":"-54","err":1.111,"ap":0.309},{"orbit":"GEO","lab":"-57","err":1.2,"ap":0.2058},{"orbit":"GEO","lab":"-60","err":1.2,"ap":0.1405}
],
"names": [{"orbit":"LEO"},{"orbit":"MEO"},{"orbit":"GEO"}]
},
"bounds": "flush",
"spacing": 34,
"vconcat": [
{
"width": 1103,
"height": 30.5,
"data": {"values": [{"lo": -63.27, "hi": -12.61}]},
"mark": {"type": "rect", "fill": {"gradient": "linear", "x1": 0, "y1": 0, "x2": 1, "y2": 0, "stops": [
{"offset": 0, "color": "#440154"}, {"offset": 0.1, "color": "#482475"}, {"offset": 0.2, "color": "#414487"}, {"offset": 0.3, "color": "#355f8d"}, {"offset": 0.4, "color": "#2a788e"}, {"offset": 0.5, "color": "#21918c"}, {"offset": 0.6, "color": "#22a884"}, {"offset": 0.7, "color": "#44bf70"}, {"offset": 0.8, "color": "#7ad151"}, {"offset": 0.9, "color": "#bddf26"}, {"offset": 1, "color": "#fde725"}]}},
"encoding": {
"x": {"field": "lo", "type": "quantitative", "scale": {"domain": [-63.27, -12.61], "nice": false, "zero": false},
"axis": {"orient": "top", "values": [-60, -50, -40, -30, -20], "tickSize": -8.5, "labelPadding": 19, "title": "Link gain at zenith (dB)", "titlePadding": 5, "zindex": 1}},
"x2": {"field": "hi"}
}
},
{
"hconcat": [
{
"width": 334, "height": 312.5,
"layer": [
{
"encoding": {
"x": {"field": "err", "type": "quantitative", "scale": {"domain": [0.5, 2.5], "nice": false, "zero": false}, "axis": {"values": [0.5, 1, 1.5, 2, 2.5], "format": ".1f", "tickSize": 8, "labelPadding": 12, "title": "Pointing error (microrad)", "titlePadding": 6}},
"y": {"field": "ap", "type": "quantitative", "scale": {"domain": [0.1, 0.5], "nice": false, "zero": false}, "axis": {"values": [0.1, 0.2, 0.3, 0.4, 0.5], "format": ".1f", "tickSize": 8, "labelPadding": 10, "title": "Satellite aperture (m)", "titlePadding": 10}}
},
"layer": [
{"data": {"name": "grid"}, "transform": [{"filter": "datum.orbit === 'LEO'"}],
"mark": {"type": "point", "shape": "M-1,-0.475H1V0.475H-1Z", "filled": true, "size": 1815, "opacity": 1, "strokeWidth": 0, "clip": true},
"encoding": {"color": {"field": "gain", "type": "quantitative", "scale": {"scheme": "viridis", "domain": [-63.27, -12.61], "clamp": true}, "legend": null}}},
{"data": {"name": "contours"}, "transform": [{"filter": "datum.orbit === 'LEO'"}],
"mark": {"type": "line", "color": "black", "strokeWidth": 2.1, "strokeDash": [7, 3.5]},
"encoding": {"detail": {"field": "seg"}, "order": {"field": "i", "type": "quantitative"}}},
{"data": {"name": "labels"}, "transform": [{"filter": "datum.lab === '-15'"}],
"mark": {"type": "text", "angle": 317, "fontSize": 18, "color": "black"}, "encoding": {"text": {"field": "lab"}}},
{"data": {"name": "labels"}, "transform": [{"filter": "datum.lab === '-18'"}],
"mark": {"type": "text", "angle": 336, "fontSize": 18, "color": "black"}, "encoding": {"text": {"field": "lab"}}},
{"data": {"name": "labels"}, "transform": [{"filter": {"field": "lab", "oneOf": ["-21", "-24"]}}],
"mark": {"type": "text", "angle": 357, "fontSize": 18, "color": "black"}, "encoding": {"text": {"field": "lab"}}}
]
},
{"data": {"name": "names"}, "transform": [{"filter": "datum.orbit === 'LEO'"}],
"mark": {"type": "text", "align": "left", "baseline": "alphabetic", "fontSize": 23, "color": "black"},
"encoding": {"x": {"datum": 2.1, "type": "quantitative"}, "y": {"datum": 0.459, "type": "quantitative"}, "text": {"field": "orbit", "type": "nominal"}}}
]
},
{
"width": 334, "height": 312.5,
"layer": [
{
"encoding": {
"x": {"field": "err", "type": "quantitative", "scale": {"domain": [0.5, 2.5], "nice": false, "zero": false}, "axis": {"values": [0.5, 1, 1.5, 2, 2.5], "format": ".1f", "tickSize": 8, "labelPadding": 12, "title": "Pointing error (microrad)", "titlePadding": 6}},
"y": {"field": "ap", "type": "quantitative", "scale": {"domain": [0.1, 0.5], "nice": false, "zero": false}, "axis": null}
},
"layer": [
{"data": {"name": "grid"}, "transform": [{"filter": "datum.orbit === 'MEO'"}],
"mark": {"type": "point", "shape": "M-1,-0.475H1V0.475H-1Z", "filled": true, "size": 1815, "opacity": 1, "strokeWidth": 0, "clip": true},
"encoding": {"color": {"field": "gain", "type": "quantitative", "scale": {"scheme": "viridis", "domain": [-63.27, -12.61], "clamp": true}, "legend": null}}},
{"data": {"name": "contours"}, "transform": [{"filter": "datum.orbit === 'MEO'"}],
"mark": {"type": "line", "color": "black", "strokeWidth": 2.1, "strokeDash": [7, 3.5]},
"encoding": {"detail": {"field": "seg"}, "order": {"field": "i", "type": "quantitative"}}},
{"data": {"name": "labels"}, "transform": [{"filter": "datum.lab === '-37'"}],
"mark": {"type": "text", "angle": 312, "fontSize": 18, "color": "black"}, "encoding": {"text": {"field": "lab"}}},
{"data": {"name": "labels"}, "transform": [{"filter": "datum.lab === '-40'"}],
"mark": {"type": "text", "angle": 335, "fontSize": 18, "color": "black"}, "encoding": {"text": {"field": "lab"}}},
{"data": {"name": "labels"}, "transform": [{"filter": {"field": "lab", "oneOf": ["-43", "-46"]}}],
"mark": {"type": "text", "angle": 356, "fontSize": 18, "color": "black"}, "encoding": {"text": {"field": "lab"}}}
]
},
{"data": {"name": "names"}, "transform": [{"filter": "datum.orbit === 'MEO'"}],
"mark": {"type": "text", "align": "left", "baseline": "alphabetic", "fontSize": 23, "color": "black"},
"encoding": {"x": {"datum": 2.1, "type": "quantitative"}, "y": {"datum": 0.459, "type": "quantitative", "axis": {"labels": false, "ticks": false, "domain": false, "title": null}}, "text": {"field": "orbit", "type": "nominal"}}}
]
},
{
"width": 334, "height": 312.5,
"layer": [
{
"encoding": {
"x": {"field": "err", "type": "quantitative", "scale": {"domain": [0.5, 2.5], "nice": false, "zero": false}, "axis": {"values": [0.5, 1, 1.5, 2, 2.5], "format": ".1f", "tickSize": 8, "labelPadding": 12, "title": "Pointing error (microrad)", "titlePadding": 6}},
"y": {"field": "ap", "type": "quantitative", "scale": {"domain": [0.1, 0.5], "nice": false, "zero": false}, "axis": {"orient": "right", "values": [0.1, 0.2, 0.3, 0.4, 0.5], "tickSize": 8, "labels": false, "title": null}}
},
"layer": [
{"data": {"name": "grid"}, "transform": [{"filter": "datum.orbit === 'GEO'"}],
"mark": {"type": "point", "shape": "M-1,-0.475H1V0.475H-1Z", "filled": true, "size": 1815, "opacity": 1, "strokeWidth": 0, "clip": true},
"encoding": {"color": {"field": "gain", "type": "quantitative", "scale": {"scheme": "viridis", "domain": [-63.27, -12.61], "clamp": true}, "legend": null}}},
{"data": {"name": "contours"}, "transform": [{"filter": "datum.orbit === 'GEO'"}],
"mark": {"type": "line", "color": "#f2f0f7", "strokeWidth": 2.1, "strokeDash": [7, 3.5]},
"encoding": {"detail": {"field": "seg"}, "order": {"field": "i", "type": "quantitative"}}},
{"data": {"name": "labels"}, "transform": [{"filter": "datum.lab === '-51'"}],
"mark": {"type": "text", "angle": 315, "fontSize": 18, "color": "#f2f0f7"}, "encoding": {"text": {"field": "lab"}}},
{"data": {"name": "labels"}, "transform": [{"filter": "datum.lab === '-54'"}],
"mark": {"type": "text", "angle": 333, "fontSize": 18, "color": "#f2f0f7"}, "encoding": {"text": {"field": "lab"}}},
{"data": {"name": "labels"}, "transform": [{"filter": {"field": "lab", "oneOf": ["-57", "-60"]}}],
"mark": {"type": "text", "angle": 356, "fontSize": 18, "color": "#f2f0f7"}, "encoding": {"text": {"field": "lab"}}}
]
},
{"data": {"name": "names"}, "transform": [{"filter": "datum.orbit === 'GEO'"}],
"mark": {"type": "text", "align": "left", "baseline": "alphabetic", "fontSize": 23, "color": "#f2f0f7"},
"encoding": {"x": {"datum": 2.1, "type": "quantitative"}, "y": {"datum": 0.459, "type": "quantitative"}, "text": {"field": "orbit", "type": "nominal"}}}
]
}
],
"spacing": 50,
"bounds": "flush"
}
]
}
